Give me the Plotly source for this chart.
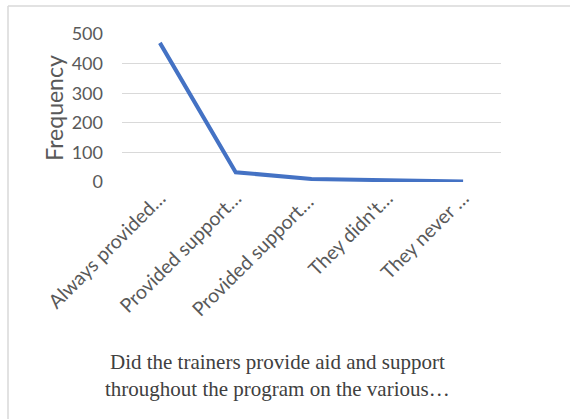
import plotly.graph_objects as go

categories = ["Always provided…", "Provided support…", "Provided support… ", "They didn't…", "They never …"]
frequency = [470, 33, 10, 5, 2]
y_ticks = [0, 100, 200, 300, 400, 500]

fig = go.Figure()
fig.add_trace(go.Scatter(
    x=categories, y=frequency, mode="lines",
    line=dict(color="#4472C4", width=4),
))

fig.update_layout(
    width=570, height=419,
    margin=dict(l=122, r=69, t=34, b=237),
    paper_bgcolor="white", plot_bgcolor="white",
    showlegend=False,
    font=dict(family="Lato, Open Sans, sans-serif", color="#595959"),
    xaxis=dict(
        type="category", range=[-0.5, 4.5], tickangle=-45, showgrid=False, zeroline=False,
        showline=False, ticks="", tickfont=dict(size=19.5, color="#595959"),
    ),
    yaxis=dict(
        range=[0, 500], tickvals=y_ticks, showgrid=True, gridcolor="#d9d9d9",
        gridwidth=1, zeroline=False, showline=False, ticks="",
        ticklabelstandoff=18,
        tickfont=dict(size=18, color="#595959"),
        title=dict(text="Frequency", font=dict(size=23, color="#595959"), standoff=1),
    ),
    shapes=[
        dict(type="line", xref="paper", yref="paper", x0=-0.3008, x1=1.3, y0=1.189, y1=1.189,
             line=dict(color="#d9d9d9", width=1.5)),
        dict(type="line", xref="paper", yref="paper", x0=-0.3008, x1=-0.3008, y0=-1.61, y1=1.189,
             line=dict(color="#d9d9d9", width=1.5)),
    ],
    annotations=[
        dict(text="Did the trainers provide aid and support<br>throughout the program on the various…",
             xref="paper", yref="paper", x=0.41, y=-1.31, showarrow=False,
             xanchor="center", yanchor="middle",
             font=dict(family="Liberation Serif, serif", size=21, color="#404040")),
    ],
)

fig.write_html("out.html")
